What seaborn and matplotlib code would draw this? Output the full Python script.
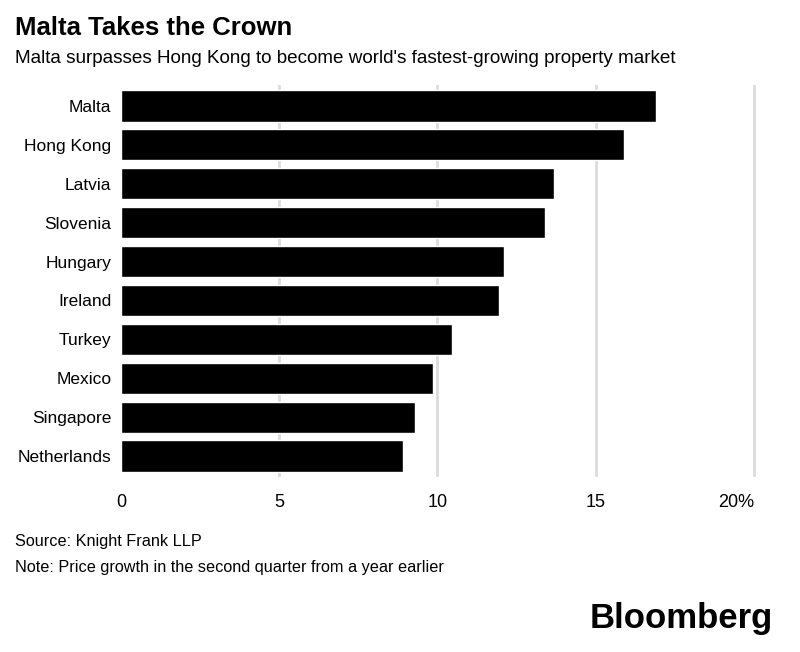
import numpy as np
import matplotlib.pyplot as plt
import seaborn as sns
import pandas as pd

# Data (house price growth, %)
countries = ['Malta', 'Hong Kong', 'Latvia', 'Slovenia', 'Hungary',
             'Ireland', 'Turkey', 'Mexico', 'Singapore', 'Netherlands']
growth = [16.9, 15.9, 13.7, 13.4, 12.1, 11.95, 10.45, 9.85, 9.3, 8.9]
tick_values = [0, 5, 10, 15, 20]
tick_labels = ['0', '5', '10', '15', '20%']

df = pd.DataFrame({'Country': countries, 'Growth': growth})

sns.set_style('white')
plt.rcParams['font.family'] = ['Liberation Sans', 'DejaVu Sans']
plt.rcParams['text.color'] = 'black'
plt.rcParams['xtick.color'] = 'black'
plt.rcParams['ytick.color'] = 'black'
narrow = ['Liberation Sans Narrow', 'Liberation Sans', 'DejaVu Sans']

fig = plt.figure(figsize=(8, 6.52), dpi=100)
# axes spans x 121..757 px, y 84.6..477.4 px
ax = fig.add_axes([121 / 800, 1 - 477.4 / 652, 636 / 800, (477.4 - 84.6) / 652])

sns.barplot(data=df, x='Growth', y='Country', color='black', width=0.8,
            saturation=1, ax=ax, zorder=3)

ax.set_xlim(0, 20.1)
ax.set_ylim(9.55, -0.55)
ax.set_xticks(tick_values)
ax.set_xticklabels(tick_labels, family=narrow, fontsize=13)
ax.get_xticklabels()[-1].set_ha('right')
ax.tick_params(axis='x', length=0, pad=12)
ax.tick_params(axis='y', length=0, pad=7, labelsize=12.5)
ax.set_xlabel('')
ax.set_ylabel('')
ax.grid(axis='x', color='#dcdcdc', linewidth=2, zorder=0)
ax.xaxis.get_gridlines()[0].set_visible(False)
for s in ax.spines.values():
    s.set_visible(False)

fig.text(15 / 800, 1 - 35 / 652, 'Malta Takes the Crown', fontsize=18.5,
         fontweight='bold', ha='left', va='baseline')
fig.text(15 / 800, 1 - 63 / 652,
         "Malta surpasses Hong Kong to become world's fastest-growing property market",
         fontsize=13.6, ha='left', va='baseline', family=narrow)
fig.text(15 / 800, 1 - 546 / 652, 'Source: Knight Frank LLP', fontsize=11.7,
         ha='left', va='baseline', family=narrow)
fig.text(15 / 800, 1 - 572 / 652,
         'Note: Price growth in the second quarter from a year earlier',
         fontsize=11.7, ha='left', va='baseline', family=narrow)
fig.text(773 / 800, 1 - 628 / 652, 'Bloomberg', fontsize=25,
         fontweight='bold', ha='right', va='baseline')

fig.savefig('out.png', dpi=100)
